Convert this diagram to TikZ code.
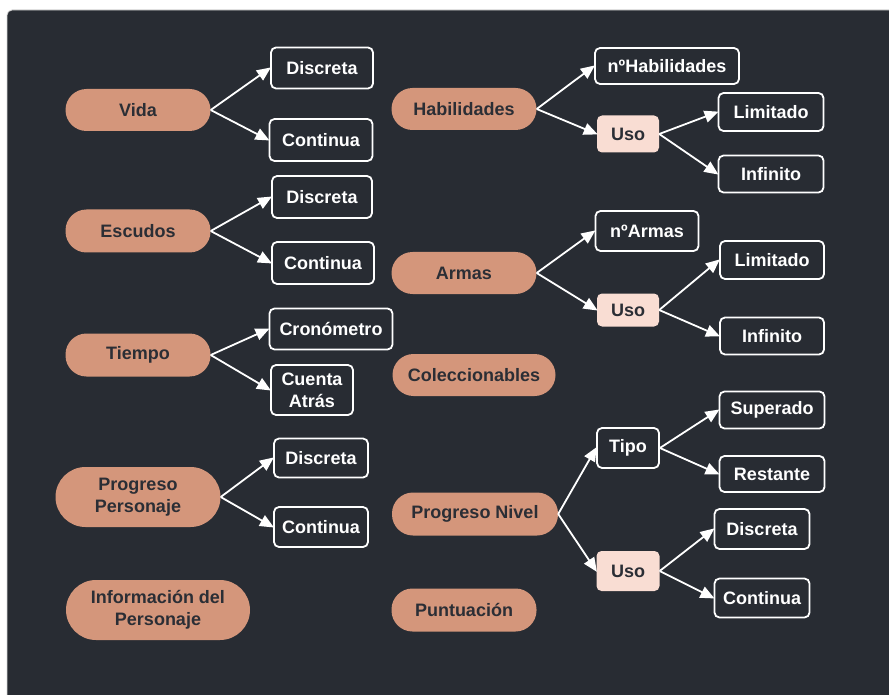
\documentclass[tikz,border=0pt]{standalone}
\usepackage{fontspec}
\setmainfont{Liberation Sans}
\usetikzlibrary{arrows.meta}
\definecolor{bgdark}{HTML}{282C33}
\definecolor{pillc}{HTML}{D4967B}
\definecolor{pinkc}{HTML}{F9DDD3}
\definecolor{txtdark}{HTML}{2B2E35}
\tikzset{
  pill/.style={fill=pillc, draw=none, rounded corners=21pt, text=txtdark, font=\fontsize{18}{22}\selectfont\bfseries, align=center, inner sep=0pt},
  leaf/.style={draw=white, line width=1.8pt, rounded corners=5pt, text=white, font=\fontsize{18}{22}\selectfont\bfseries, align=center, inner sep=0pt},
  usebox/.style={fill=pinkc, draw=none, rounded corners=5pt, text=txtdark, font=\fontsize{18}{22}\selectfont\bfseries, align=center, inner sep=0pt},
  arr/.style={draw=white, line width=1.8pt, -{Triangle[length=14pt,width=12pt]}, shorten >=-1pt},
  sz/.style 2 args={minimum width=#1pt, minimum height=#2pt}
}
\begin{document}
\begin{tikzpicture}[x=1pt,y=-1pt]
\useasboundingbox (0,0) rectangle (889,695);
\fill[white] (0,0) rectangle (889,695);
\fill[bgdark, draw=black!15, line width=0.8pt, rounded corners=5pt] (7,10) rectangle (905,715);
% left column
\node[pill, sz={145}{42}] (vida) at (138,110) {Vida};
\node[leaf, sz={102}{41}] (vd) at (322,68) {Discreta};
\node[leaf, sz={103}{42}] (vc) at (321,140) {Continua};
\node[pill, sz={145}{43}] (esc) at (138,231) {Escudos};
\node[leaf, sz={100}{42}] (ed) at (322,197) {Discreta};
\node[leaf, sz={102}{42}] (ec) at (323,263) {Continua};
\node[pill, sz={145}{43}] (tie) at (138,355) {Tiempo};
\node[leaf, sz={123}{41}] (cro) at (331,329) {Cronómetro};
\node[leaf, sz={82}{50}] (cat) at (312,390) {Cuenta\\Atrás};
\node[pill, sz={165}{60}, rounded corners=30pt] (pp) at (138,497) {Progreso\\Personaje};
\node[leaf, sz={94}{39}] (pd) at (321,458) {Discreta};
\node[leaf, sz={94}{40}] (pc) at (321,527) {Continua};
\node[pill, sz={184}{60}, rounded corners=30pt] (inf) at (158,610) {Información del\\Personaje};
% right column
\node[pill, sz={145}{42}] (hab) at (464,109) {Habilidades};
\node[leaf, sz={144}{36}] (nh) at (667,66) {nºHabilidades};
\node[usebox, sz={62}{37}] (hu) at (628,134) {Uso};
\node[leaf, sz={105}{38}] (hl) at (771,112) {Limitado};
\node[leaf, sz={105}{37}] (hi) at (771,174) {Infinito};
\node[pill, sz={145}{42}] (arm) at (464,273) {Armas};
\node[leaf, sz={103}{40}] (na) at (647,231) {nºArmas};
\node[usebox, sz={62}{33}] (au) at (628,310) {Uso};
\node[leaf, sz={104}{38}] (al) at (772,260) {Limitado};
\node[leaf, sz={104}{37}] (ai) at (772,336) {Infinito};
\node[pill, sz={163}{42}] (col) at (474,375) {Coleccionables};
\node[pill, sz={166}{43}] (pn) at (475,514) {Progreso Nivel};
\node[leaf, sz={62}{40}] (tipo) at (628,448) {Tipo};
\node[leaf, sz={105}{37}] (sup) at (772,410) {Superado};
\node[leaf, sz={105}{36}] (res) at (772,474) {Restante};
\node[usebox, sz={63}{40}] (nu) at (628,571) {Uso};
\node[leaf, sz={95}{40}] (nd) at (762,529) {Discreta};
\node[leaf, sz={95}{39}] (nc) at (762,598) {Continua};
\node[pill, sz={145}{43}] (pun) at (464,610) {Puntuación};
% arrows
\draw[arr] (vida.east) -- (vd.west);
\draw[arr] (vida.east) -- (vc.west);
\draw[arr] (esc.east) -- (ed.west);
\draw[arr] (esc.east) -- (ec.west);
\draw[arr] (tie.east) -- (cro.west);
\draw[arr] (tie.east) -- (cat.west);
\draw[arr] (pp.east) -- (pd.west);
\draw[arr] (pp.east) -- (pc.west);
\draw[arr] (hab.east) -- (nh.west);
\draw[arr] (hab.east) -- (hu.west);
\draw[arr] (hu.east) -- (hl.west);
\draw[arr] (hu.east) -- (hi.west);
\draw[arr] (arm.east) -- (na.west);
\draw[arr] (arm.east) -- (au.west);
\draw[arr] (au.east) -- (al.west);
\draw[arr] (au.east) -- (ai.west);
\draw[arr] (pn.east) -- (tipo.west);
\draw[arr] (pn.east) -- (nu.west);
\draw[arr] (tipo.east) -- (sup.west);
\draw[arr] (tipo.east) -- (res.west);
\draw[arr] (nu.east) -- (nd.west);
\draw[arr] (nu.east) -- (nc.west);
\end{tikzpicture}
\end{document}
